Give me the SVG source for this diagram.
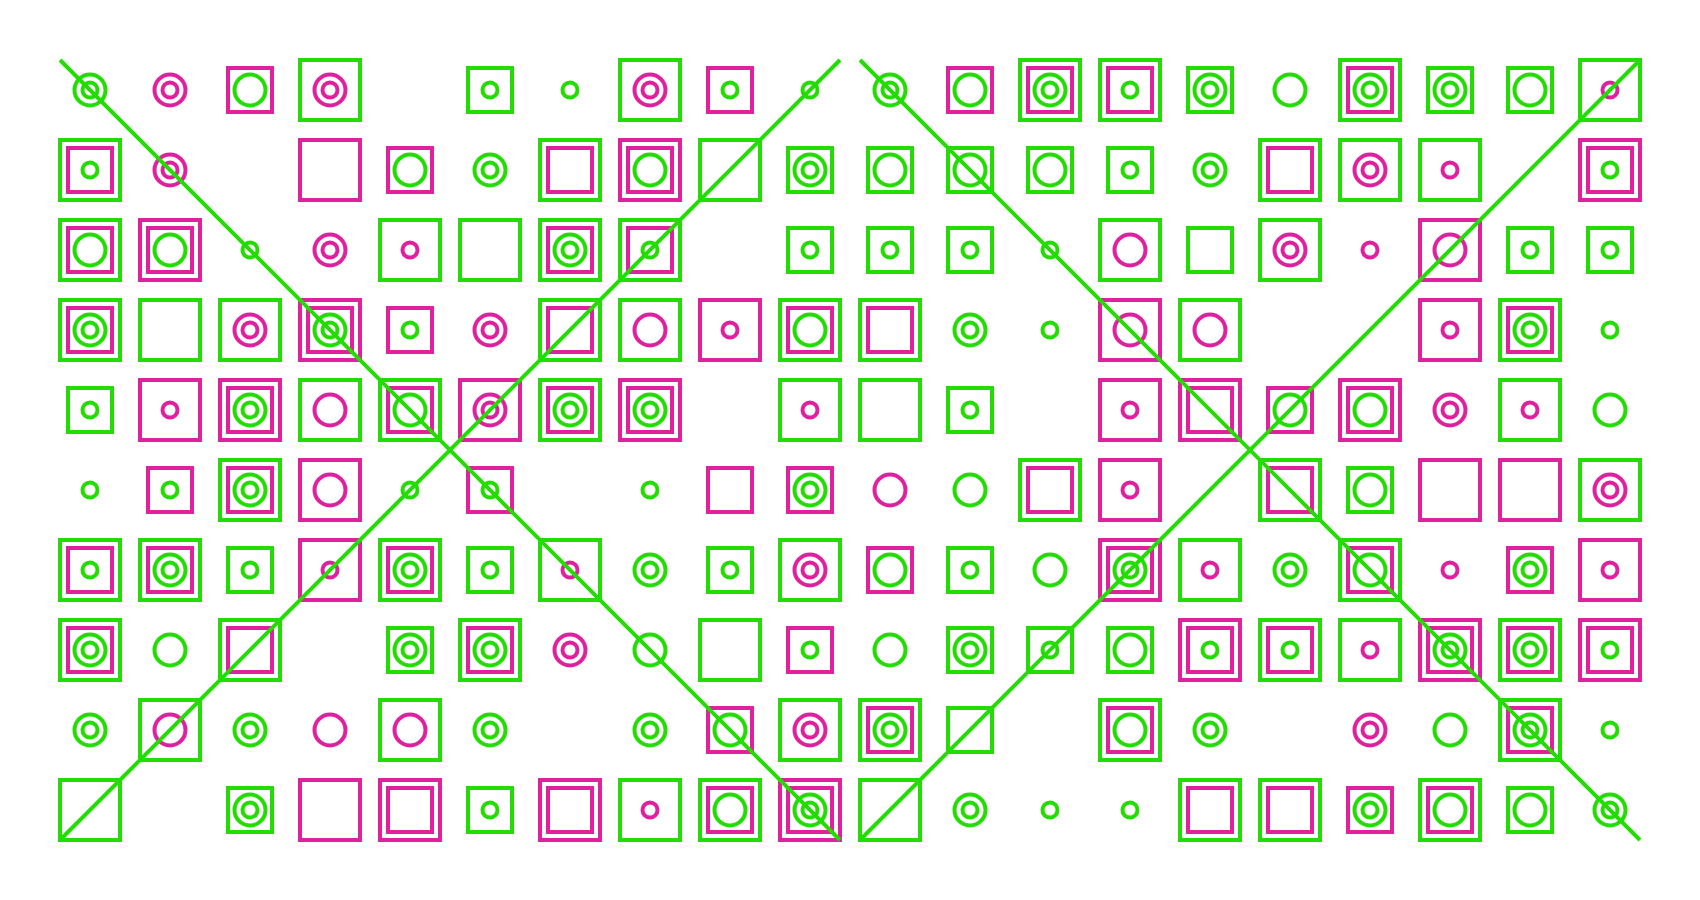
<svg xmlns="http://www.w3.org/2000/svg" width="1700" height="900" viewBox="0 0 1700 900">
<style>
rect,circle,line{fill:none;stroke-width:4}
.g{stroke:#22dd00}
.m{stroke:#e0209f}
</style>
<rect x="0" y="0" width="1700" height="900" fill="#ffffff" stroke="none"/>
<g id="cells">
<!-- row 0 -->
<g id="r0c0" transform="translate(90 90)"><circle r="15.5" class="g"/><circle r="7.5" class="g"/></g>
<g id="r0c1" transform="translate(170 90)"><circle r="15.5" class="m"/><circle r="7.5" class="m"/></g>
<g id="r0c2" transform="translate(250 90)"><rect x="-22" y="-22" width="44" height="44" class="m"/><circle r="15.5" class="g"/></g>
<g id="r0c3" transform="translate(330 90)"><rect x="-30" y="-30" width="60" height="60" class="g"/><circle r="15.5" class="m"/><circle r="7.5" class="m"/></g>
<g id="r0c5" transform="translate(490 90)"><rect x="-22" y="-22" width="44" height="44" class="g"/><circle r="7.5" class="g"/></g>
<g id="r0c6" transform="translate(570 90)"><circle r="7.5" class="g"/></g>
<g id="r0c7" transform="translate(650 90)"><rect x="-30" y="-30" width="60" height="60" class="g"/><circle r="15.5" class="m"/><circle r="7.5" class="m"/></g>
<g id="r0c8" transform="translate(730 90)"><rect x="-22" y="-22" width="44" height="44" class="m"/><circle r="7.5" class="g"/></g>
<g id="r0c9" transform="translate(810 90)"><circle r="7.5" class="g"/></g>
<g id="r0c10" transform="translate(890 90)"><circle r="15.5" class="g"/><circle r="7.5" class="g"/></g>
<g id="r0c11" transform="translate(970 90)"><rect x="-22" y="-22" width="44" height="44" class="m"/><circle r="15.5" class="g"/></g>
<g id="r0c12" transform="translate(1050 90)"><rect x="-30" y="-30" width="60" height="60" class="g"/><rect x="-22" y="-22" width="44" height="44" class="m"/><circle r="15.5" class="g"/><circle r="7.5" class="g"/></g>
<g id="r0c13" transform="translate(1130 90)"><rect x="-30" y="-30" width="60" height="60" class="g"/><rect x="-22" y="-22" width="44" height="44" class="m"/><circle r="7.5" class="g"/></g>
<g id="r0c14" transform="translate(1210 90)"><rect x="-22" y="-22" width="44" height="44" class="g"/><circle r="15.5" class="g"/><circle r="7.5" class="g"/></g>
<g id="r0c15" transform="translate(1290 90)"><circle r="15.5" class="g"/></g>
<g id="r0c16" transform="translate(1370 90)"><rect x="-30" y="-30" width="60" height="60" class="g"/><rect x="-22" y="-22" width="44" height="44" class="m"/><circle r="15.5" class="g"/><circle r="7.5" class="g"/></g>
<g id="r0c17" transform="translate(1450 90)"><rect x="-22" y="-22" width="44" height="44" class="g"/><circle r="15.5" class="g"/><circle r="7.5" class="g"/></g>
<g id="r0c18" transform="translate(1530 90)"><rect x="-22" y="-22" width="44" height="44" class="g"/><circle r="15.5" class="g"/></g>
<g id="r0c19" transform="translate(1610 90)"><rect x="-30" y="-30" width="60" height="60" class="g"/><circle r="7.5" class="m"/></g>
<!-- row 1 -->
<g id="r1c0" transform="translate(90 170)"><rect x="-30" y="-30" width="60" height="60" class="g"/><rect x="-22" y="-22" width="44" height="44" class="m"/><circle r="7.5" class="g"/></g>
<g id="r1c1" transform="translate(170 170)"><circle r="15.5" class="m"/><circle r="7.5" class="m"/></g>
<g id="r1c3" transform="translate(330 170)"><rect x="-30" y="-30" width="60" height="60" class="m"/></g>
<g id="r1c4" transform="translate(410 170)"><rect x="-22" y="-22" width="44" height="44" class="m"/><circle r="15.5" class="g"/></g>
<g id="r1c5" transform="translate(490 170)"><circle r="15.5" class="g"/><circle r="7.5" class="g"/></g>
<g id="r1c6" transform="translate(570 170)"><rect x="-30" y="-30" width="60" height="60" class="g"/><rect x="-22" y="-22" width="44" height="44" class="m"/></g>
<g id="r1c7" transform="translate(650 170)"><rect x="-30" y="-30" width="60" height="60" class="m"/><rect x="-22" y="-22" width="44" height="44" class="m"/><circle r="15.5" class="g"/></g>
<g id="r1c8" transform="translate(730 170)"><rect x="-30" y="-30" width="60" height="60" class="g"/></g>
<g id="r1c9" transform="translate(810 170)"><rect x="-22" y="-22" width="44" height="44" class="g"/><circle r="15.5" class="g"/><circle r="7.5" class="g"/></g>
<g id="r1c10" transform="translate(890 170)"><rect x="-22" y="-22" width="44" height="44" class="g"/><circle r="15.5" class="g"/></g>
<g id="r1c11" transform="translate(970 170)"><rect x="-22" y="-22" width="44" height="44" class="g"/><circle r="15.5" class="g"/></g>
<g id="r1c12" transform="translate(1050 170)"><rect x="-22" y="-22" width="44" height="44" class="g"/><circle r="15.5" class="g"/></g>
<g id="r1c13" transform="translate(1130 170)"><rect x="-22" y="-22" width="44" height="44" class="g"/><circle r="7.5" class="g"/></g>
<g id="r1c14" transform="translate(1210 170)"><circle r="15.5" class="g"/><circle r="7.5" class="g"/></g>
<g id="r1c15" transform="translate(1290 170)"><rect x="-30" y="-30" width="60" height="60" class="g"/><rect x="-22" y="-22" width="44" height="44" class="m"/></g>
<g id="r1c16" transform="translate(1370 170)"><rect x="-30" y="-30" width="60" height="60" class="g"/><circle r="15.5" class="m"/><circle r="7.5" class="m"/></g>
<g id="r1c17" transform="translate(1450 170)"><rect x="-30" y="-30" width="60" height="60" class="g"/><circle r="7.5" class="m"/></g>
<g id="r1c19" transform="translate(1610 170)"><rect x="-30" y="-30" width="60" height="60" class="m"/><rect x="-22" y="-22" width="44" height="44" class="m"/><circle r="7.5" class="g"/></g>
<!-- row 2 -->
<g id="r2c0" transform="translate(90 250)"><rect x="-30" y="-30" width="60" height="60" class="g"/><rect x="-22" y="-22" width="44" height="44" class="m"/><circle r="15.5" class="g"/></g>
<g id="r2c1" transform="translate(170 250)"><rect x="-30" y="-30" width="60" height="60" class="m"/><rect x="-22" y="-22" width="44" height="44" class="m"/><circle r="15.5" class="g"/></g>
<g id="r2c2" transform="translate(250 250)"><circle r="7.5" class="g"/></g>
<g id="r2c3" transform="translate(330 250)"><circle r="15.5" class="m"/><circle r="7.5" class="m"/></g>
<g id="r2c4" transform="translate(410 250)"><rect x="-30" y="-30" width="60" height="60" class="g"/><circle r="7.5" class="m"/></g>
<g id="r2c5" transform="translate(490 250)"><rect x="-30" y="-30" width="60" height="60" class="g"/></g>
<g id="r2c6" transform="translate(570 250)"><rect x="-30" y="-30" width="60" height="60" class="g"/><rect x="-22" y="-22" width="44" height="44" class="m"/><circle r="15.5" class="g"/><circle r="7.5" class="g"/></g>
<g id="r2c7" transform="translate(650 250)"><rect x="-30" y="-30" width="60" height="60" class="g"/><rect x="-22" y="-22" width="44" height="44" class="m"/><circle r="7.5" class="g"/></g>
<g id="r2c9" transform="translate(810 250)"><rect x="-22" y="-22" width="44" height="44" class="g"/><circle r="7.5" class="g"/></g>
<g id="r2c10" transform="translate(890 250)"><rect x="-22" y="-22" width="44" height="44" class="g"/><circle r="7.5" class="g"/></g>
<g id="r2c11" transform="translate(970 250)"><rect x="-22" y="-22" width="44" height="44" class="g"/><circle r="7.5" class="g"/></g>
<g id="r2c12" transform="translate(1050 250)"><circle r="7.5" class="g"/></g>
<g id="r2c13" transform="translate(1130 250)"><rect x="-30" y="-30" width="60" height="60" class="g"/><circle r="15.5" class="m"/></g>
<g id="r2c14" transform="translate(1210 250)"><rect x="-22" y="-22" width="44" height="44" class="g"/></g>
<g id="r2c15" transform="translate(1290 250)"><rect x="-30" y="-30" width="60" height="60" class="g"/><circle r="15.5" class="m"/><circle r="7.5" class="m"/></g>
<g id="r2c16" transform="translate(1370 250)"><circle r="7.5" class="m"/></g>
<g id="r2c17" transform="translate(1450 250)"><rect x="-30" y="-30" width="60" height="60" class="m"/><circle r="15.5" class="m"/></g>
<g id="r2c18" transform="translate(1530 250)"><rect x="-22" y="-22" width="44" height="44" class="g"/><circle r="7.5" class="g"/></g>
<g id="r2c19" transform="translate(1610 250)"><rect x="-22" y="-22" width="44" height="44" class="g"/><circle r="7.5" class="g"/></g>
<!-- row 3 -->
<g id="r3c0" transform="translate(90 330)"><rect x="-30" y="-30" width="60" height="60" class="g"/><rect x="-22" y="-22" width="44" height="44" class="m"/><circle r="15.5" class="g"/><circle r="7.5" class="g"/></g>
<g id="r3c1" transform="translate(170 330)"><rect x="-30" y="-30" width="60" height="60" class="g"/></g>
<g id="r3c2" transform="translate(250 330)"><rect x="-30" y="-30" width="60" height="60" class="g"/><circle r="15.5" class="m"/><circle r="7.5" class="m"/></g>
<g id="r3c3" transform="translate(330 330)"><rect x="-30" y="-30" width="60" height="60" class="m"/><rect x="-22" y="-22" width="44" height="44" class="m"/><circle r="15.5" class="g"/><circle r="7.5" class="g"/></g>
<g id="r3c4" transform="translate(410 330)"><rect x="-22" y="-22" width="44" height="44" class="m"/><circle r="7.5" class="g"/></g>
<g id="r3c5" transform="translate(490 330)"><circle r="15.5" class="m"/><circle r="7.5" class="m"/></g>
<g id="r3c6" transform="translate(570 330)"><rect x="-30" y="-30" width="60" height="60" class="g"/><rect x="-22" y="-22" width="44" height="44" class="m"/></g>
<g id="r3c7" transform="translate(650 330)"><rect x="-30" y="-30" width="60" height="60" class="g"/><circle r="15.5" class="m"/></g>
<g id="r3c8" transform="translate(730 330)"><rect x="-30" y="-30" width="60" height="60" class="m"/><circle r="7.5" class="m"/></g>
<g id="r3c9" transform="translate(810 330)"><rect x="-30" y="-30" width="60" height="60" class="g"/><rect x="-22" y="-22" width="44" height="44" class="m"/><circle r="15.5" class="g"/></g>
<g id="r3c10" transform="translate(890 330)"><rect x="-30" y="-30" width="60" height="60" class="g"/><rect x="-22" y="-22" width="44" height="44" class="m"/></g>
<g id="r3c11" transform="translate(970 330)"><circle r="15.5" class="g"/><circle r="7.5" class="g"/></g>
<g id="r3c12" transform="translate(1050 330)"><circle r="7.5" class="g"/></g>
<g id="r3c13" transform="translate(1130 330)"><rect x="-30" y="-30" width="60" height="60" class="m"/><circle r="15.5" class="m"/></g>
<g id="r3c14" transform="translate(1210 330)"><rect x="-30" y="-30" width="60" height="60" class="g"/><circle r="15.5" class="m"/></g>
<g id="r3c17" transform="translate(1450 330)"><rect x="-30" y="-30" width="60" height="60" class="m"/><circle r="7.5" class="m"/></g>
<g id="r3c18" transform="translate(1530 330)"><rect x="-30" y="-30" width="60" height="60" class="g"/><rect x="-22" y="-22" width="44" height="44" class="m"/><circle r="15.5" class="g"/><circle r="7.5" class="g"/></g>
<g id="r3c19" transform="translate(1610 330)"><circle r="7.5" class="g"/></g>
<!-- row 4 -->
<g id="r4c0" transform="translate(90 410)"><rect x="-22" y="-22" width="44" height="44" class="g"/><circle r="7.5" class="g"/></g>
<g id="r4c1" transform="translate(170 410)"><rect x="-30" y="-30" width="60" height="60" class="m"/><circle r="7.5" class="m"/></g>
<g id="r4c2" transform="translate(250 410)"><rect x="-30" y="-30" width="60" height="60" class="m"/><rect x="-22" y="-22" width="44" height="44" class="m"/><circle r="15.5" class="g"/><circle r="7.5" class="g"/></g>
<g id="r4c3" transform="translate(330 410)"><rect x="-30" y="-30" width="60" height="60" class="g"/><circle r="15.5" class="m"/></g>
<g id="r4c4" transform="translate(410 410)"><rect x="-30" y="-30" width="60" height="60" class="g"/><rect x="-22" y="-22" width="44" height="44" class="m"/><circle r="15.5" class="g"/></g>
<g id="r4c5" transform="translate(490 410)"><rect x="-30" y="-30" width="60" height="60" class="m"/><circle r="15.5" class="m"/><circle r="7.5" class="m"/></g>
<g id="r4c6" transform="translate(570 410)"><rect x="-30" y="-30" width="60" height="60" class="g"/><rect x="-22" y="-22" width="44" height="44" class="m"/><circle r="15.5" class="g"/><circle r="7.5" class="g"/></g>
<g id="r4c7" transform="translate(650 410)"><rect x="-30" y="-30" width="60" height="60" class="m"/><rect x="-22" y="-22" width="44" height="44" class="m"/><circle r="15.5" class="g"/><circle r="7.5" class="g"/></g>
<g id="r4c9" transform="translate(810 410)"><rect x="-30" y="-30" width="60" height="60" class="g"/><circle r="7.5" class="m"/></g>
<g id="r4c10" transform="translate(890 410)"><rect x="-30" y="-30" width="60" height="60" class="g"/></g>
<g id="r4c11" transform="translate(970 410)"><rect x="-22" y="-22" width="44" height="44" class="g"/><circle r="7.5" class="g"/></g>
<g id="r4c13" transform="translate(1130 410)"><rect x="-30" y="-30" width="60" height="60" class="m"/><circle r="7.5" class="m"/></g>
<g id="r4c14" transform="translate(1210 410)"><rect x="-30" y="-30" width="60" height="60" class="m"/><rect x="-22" y="-22" width="44" height="44" class="m"/></g>
<g id="r4c15" transform="translate(1290 410)"><rect x="-22" y="-22" width="44" height="44" class="m"/><circle r="15.5" class="g"/></g>
<g id="r4c16" transform="translate(1370 410)"><rect x="-30" y="-30" width="60" height="60" class="m"/><rect x="-22" y="-22" width="44" height="44" class="m"/><circle r="15.5" class="g"/></g>
<g id="r4c17" transform="translate(1450 410)"><circle r="15.5" class="m"/><circle r="7.5" class="m"/></g>
<g id="r4c18" transform="translate(1530 410)"><rect x="-30" y="-30" width="60" height="60" class="g"/><circle r="7.5" class="m"/></g>
<g id="r4c19" transform="translate(1610 410)"><circle r="15.5" class="g"/></g>
<!-- row 5 -->
<g id="r5c0" transform="translate(90 490)"><circle r="7.5" class="g"/></g>
<g id="r5c1" transform="translate(170 490)"><rect x="-22" y="-22" width="44" height="44" class="m"/><circle r="7.5" class="g"/></g>
<g id="r5c2" transform="translate(250 490)"><rect x="-30" y="-30" width="60" height="60" class="g"/><rect x="-22" y="-22" width="44" height="44" class="m"/><circle r="15.5" class="g"/><circle r="7.5" class="g"/></g>
<g id="r5c3" transform="translate(330 490)"><rect x="-30" y="-30" width="60" height="60" class="m"/><circle r="15.5" class="m"/></g>
<g id="r5c4" transform="translate(410 490)"><circle r="7.5" class="g"/></g>
<g id="r5c5" transform="translate(490 490)"><rect x="-22" y="-22" width="44" height="44" class="m"/><circle r="7.5" class="g"/></g>
<g id="r5c7" transform="translate(650 490)"><circle r="7.5" class="g"/></g>
<g id="r5c8" transform="translate(730 490)"><rect x="-22" y="-22" width="44" height="44" class="m"/></g>
<g id="r5c9" transform="translate(810 490)"><rect x="-22" y="-22" width="44" height="44" class="m"/><circle r="15.5" class="g"/><circle r="7.5" class="g"/></g>
<g id="r5c10" transform="translate(890 490)"><circle r="15.5" class="m"/></g>
<g id="r5c11" transform="translate(970 490)"><circle r="15.5" class="g"/></g>
<g id="r5c12" transform="translate(1050 490)"><rect x="-30" y="-30" width="60" height="60" class="g"/><rect x="-22" y="-22" width="44" height="44" class="m"/></g>
<g id="r5c13" transform="translate(1130 490)"><rect x="-30" y="-30" width="60" height="60" class="m"/><circle r="7.5" class="m"/></g>
<g id="r5c15" transform="translate(1290 490)"><rect x="-30" y="-30" width="60" height="60" class="g"/><rect x="-22" y="-22" width="44" height="44" class="m"/></g>
<g id="r5c16" transform="translate(1370 490)"><rect x="-22" y="-22" width="44" height="44" class="g"/><circle r="15.5" class="g"/></g>
<g id="r5c17" transform="translate(1450 490)"><rect x="-30" y="-30" width="60" height="60" class="m"/></g>
<g id="r5c18" transform="translate(1530 490)"><rect x="-30" y="-30" width="60" height="60" class="m"/></g>
<g id="r5c19" transform="translate(1610 490)"><rect x="-30" y="-30" width="60" height="60" class="g"/><circle r="15.5" class="m"/><circle r="7.5" class="m"/></g>
<!-- row 6 -->
<g id="r6c0" transform="translate(90 570)"><rect x="-30" y="-30" width="60" height="60" class="g"/><rect x="-22" y="-22" width="44" height="44" class="m"/><circle r="7.5" class="g"/></g>
<g id="r6c1" transform="translate(170 570)"><rect x="-30" y="-30" width="60" height="60" class="g"/><rect x="-22" y="-22" width="44" height="44" class="m"/><circle r="15.5" class="g"/><circle r="7.5" class="g"/></g>
<g id="r6c2" transform="translate(250 570)"><rect x="-22" y="-22" width="44" height="44" class="g"/><circle r="7.5" class="g"/></g>
<g id="r6c3" transform="translate(330 570)"><rect x="-30" y="-30" width="60" height="60" class="m"/><circle r="7.5" class="m"/></g>
<g id="r6c4" transform="translate(410 570)"><rect x="-30" y="-30" width="60" height="60" class="g"/><rect x="-22" y="-22" width="44" height="44" class="m"/><circle r="15.5" class="g"/><circle r="7.5" class="g"/></g>
<g id="r6c5" transform="translate(490 570)"><rect x="-22" y="-22" width="44" height="44" class="g"/><circle r="7.5" class="g"/></g>
<g id="r6c6" transform="translate(570 570)"><rect x="-30" y="-30" width="60" height="60" class="g"/><circle r="7.5" class="m"/></g>
<g id="r6c7" transform="translate(650 570)"><circle r="15.5" class="g"/><circle r="7.5" class="g"/></g>
<g id="r6c8" transform="translate(730 570)"><rect x="-22" y="-22" width="44" height="44" class="g"/><circle r="7.5" class="g"/></g>
<g id="r6c9" transform="translate(810 570)"><rect x="-30" y="-30" width="60" height="60" class="g"/><circle r="15.5" class="m"/><circle r="7.5" class="m"/></g>
<g id="r6c10" transform="translate(890 570)"><rect x="-22" y="-22" width="44" height="44" class="m"/><circle r="15.5" class="g"/></g>
<g id="r6c11" transform="translate(970 570)"><rect x="-22" y="-22" width="44" height="44" class="g"/><circle r="7.5" class="g"/></g>
<g id="r6c12" transform="translate(1050 570)"><circle r="15.5" class="g"/></g>
<g id="r6c13" transform="translate(1130 570)"><rect x="-30" y="-30" width="60" height="60" class="m"/><rect x="-22" y="-22" width="44" height="44" class="m"/><circle r="15.5" class="g"/><circle r="7.5" class="g"/></g>
<g id="r6c14" transform="translate(1210 570)"><rect x="-30" y="-30" width="60" height="60" class="g"/><circle r="7.5" class="m"/></g>
<g id="r6c15" transform="translate(1290 570)"><circle r="15.5" class="g"/><circle r="7.5" class="g"/></g>
<g id="r6c16" transform="translate(1370 570)"><rect x="-30" y="-30" width="60" height="60" class="g"/><rect x="-22" y="-22" width="44" height="44" class="m"/><circle r="15.5" class="g"/></g>
<g id="r6c17" transform="translate(1450 570)"><circle r="7.5" class="m"/></g>
<g id="r6c18" transform="translate(1530 570)"><rect x="-22" y="-22" width="44" height="44" class="m"/><circle r="15.5" class="g"/><circle r="7.5" class="g"/></g>
<g id="r6c19" transform="translate(1610 570)"><rect x="-30" y="-30" width="60" height="60" class="m"/><circle r="7.5" class="m"/></g>
<!-- row 7 -->
<g id="r7c0" transform="translate(90 650)"><rect x="-30" y="-30" width="60" height="60" class="g"/><rect x="-22" y="-22" width="44" height="44" class="m"/><circle r="15.5" class="g"/><circle r="7.5" class="g"/></g>
<g id="r7c1" transform="translate(170 650)"><circle r="15.5" class="g"/></g>
<g id="r7c2" transform="translate(250 650)"><rect x="-30" y="-30" width="60" height="60" class="g"/><rect x="-22" y="-22" width="44" height="44" class="m"/></g>
<g id="r7c4" transform="translate(410 650)"><rect x="-22" y="-22" width="44" height="44" class="g"/><circle r="15.5" class="g"/><circle r="7.5" class="g"/></g>
<g id="r7c5" transform="translate(490 650)"><rect x="-30" y="-30" width="60" height="60" class="g"/><rect x="-22" y="-22" width="44" height="44" class="m"/><circle r="15.5" class="g"/><circle r="7.5" class="g"/></g>
<g id="r7c6" transform="translate(570 650)"><circle r="15.5" class="m"/><circle r="7.5" class="m"/></g>
<g id="r7c7" transform="translate(650 650)"><circle r="15.5" class="g"/></g>
<g id="r7c8" transform="translate(730 650)"><rect x="-30" y="-30" width="60" height="60" class="g"/></g>
<g id="r7c9" transform="translate(810 650)"><rect x="-22" y="-22" width="44" height="44" class="m"/><circle r="7.5" class="g"/></g>
<g id="r7c10" transform="translate(890 650)"><circle r="15.5" class="g"/></g>
<g id="r7c11" transform="translate(970 650)"><rect x="-22" y="-22" width="44" height="44" class="g"/><circle r="15.5" class="g"/><circle r="7.5" class="g"/></g>
<g id="r7c12" transform="translate(1050 650)"><rect x="-22" y="-22" width="44" height="44" class="g"/><circle r="7.5" class="g"/></g>
<g id="r7c13" transform="translate(1130 650)"><rect x="-22" y="-22" width="44" height="44" class="g"/><circle r="15.5" class="g"/></g>
<g id="r7c14" transform="translate(1210 650)"><rect x="-30" y="-30" width="60" height="60" class="m"/><rect x="-22" y="-22" width="44" height="44" class="m"/><circle r="7.5" class="g"/></g>
<g id="r7c15" transform="translate(1290 650)"><rect x="-30" y="-30" width="60" height="60" class="g"/><rect x="-22" y="-22" width="44" height="44" class="m"/><circle r="7.5" class="g"/></g>
<g id="r7c16" transform="translate(1370 650)"><rect x="-30" y="-30" width="60" height="60" class="g"/><circle r="7.5" class="m"/></g>
<g id="r7c17" transform="translate(1450 650)"><rect x="-30" y="-30" width="60" height="60" class="m"/><rect x="-22" y="-22" width="44" height="44" class="m"/><circle r="15.5" class="g"/><circle r="7.5" class="g"/></g>
<g id="r7c18" transform="translate(1530 650)"><rect x="-30" y="-30" width="60" height="60" class="g"/><rect x="-22" y="-22" width="44" height="44" class="m"/><circle r="15.5" class="g"/><circle r="7.5" class="g"/></g>
<g id="r7c19" transform="translate(1610 650)"><rect x="-30" y="-30" width="60" height="60" class="m"/><rect x="-22" y="-22" width="44" height="44" class="m"/><circle r="7.5" class="g"/></g>
<!-- row 8 -->
<g id="r8c0" transform="translate(90 730)"><circle r="15.5" class="g"/><circle r="7.5" class="g"/></g>
<g id="r8c1" transform="translate(170 730)"><rect x="-30" y="-30" width="60" height="60" class="g"/><circle r="15.5" class="m"/></g>
<g id="r8c2" transform="translate(250 730)"><circle r="15.5" class="g"/><circle r="7.5" class="g"/></g>
<g id="r8c3" transform="translate(330 730)"><circle r="15.5" class="m"/></g>
<g id="r8c4" transform="translate(410 730)"><rect x="-30" y="-30" width="60" height="60" class="g"/><circle r="15.5" class="m"/></g>
<g id="r8c5" transform="translate(490 730)"><circle r="15.5" class="g"/><circle r="7.5" class="g"/></g>
<g id="r8c7" transform="translate(650 730)"><circle r="15.5" class="g"/><circle r="7.5" class="g"/></g>
<g id="r8c8" transform="translate(730 730)"><rect x="-22" y="-22" width="44" height="44" class="m"/><circle r="15.5" class="g"/></g>
<g id="r8c9" transform="translate(810 730)"><rect x="-30" y="-30" width="60" height="60" class="g"/><circle r="15.5" class="m"/><circle r="7.5" class="m"/></g>
<g id="r8c10" transform="translate(890 730)"><rect x="-30" y="-30" width="60" height="60" class="g"/><rect x="-22" y="-22" width="44" height="44" class="m"/><circle r="15.5" class="g"/><circle r="7.5" class="g"/></g>
<g id="r8c11" transform="translate(970 730)"><rect x="-22" y="-22" width="44" height="44" class="g"/></g>
<g id="r8c13" transform="translate(1130 730)"><rect x="-30" y="-30" width="60" height="60" class="g"/><rect x="-22" y="-22" width="44" height="44" class="m"/><circle r="15.5" class="g"/></g>
<g id="r8c14" transform="translate(1210 730)"><circle r="15.5" class="g"/><circle r="7.5" class="g"/></g>
<g id="r8c16" transform="translate(1370 730)"><circle r="15.5" class="m"/><circle r="7.5" class="m"/></g>
<g id="r8c17" transform="translate(1450 730)"><circle r="15.5" class="g"/></g>
<g id="r8c18" transform="translate(1530 730)"><rect x="-30" y="-30" width="60" height="60" class="g"/><rect x="-22" y="-22" width="44" height="44" class="m"/><circle r="15.5" class="g"/><circle r="7.5" class="g"/></g>
<g id="r8c19" transform="translate(1610 730)"><circle r="7.5" class="g"/></g>
<!-- row 9 -->
<g id="r9c0" transform="translate(90 810)"><rect x="-30" y="-30" width="60" height="60" class="g"/></g>
<g id="r9c2" transform="translate(250 810)"><rect x="-22" y="-22" width="44" height="44" class="g"/><circle r="15.5" class="g"/><circle r="7.5" class="g"/></g>
<g id="r9c3" transform="translate(330 810)"><rect x="-30" y="-30" width="60" height="60" class="m"/></g>
<g id="r9c4" transform="translate(410 810)"><rect x="-30" y="-30" width="60" height="60" class="m"/><rect x="-22" y="-22" width="44" height="44" class="m"/></g>
<g id="r9c5" transform="translate(490 810)"><rect x="-22" y="-22" width="44" height="44" class="g"/><circle r="7.5" class="g"/></g>
<g id="r9c6" transform="translate(570 810)"><rect x="-30" y="-30" width="60" height="60" class="m"/><rect x="-22" y="-22" width="44" height="44" class="m"/></g>
<g id="r9c7" transform="translate(650 810)"><rect x="-30" y="-30" width="60" height="60" class="g"/><circle r="7.5" class="m"/></g>
<g id="r9c8" transform="translate(730 810)"><rect x="-30" y="-30" width="60" height="60" class="g"/><rect x="-22" y="-22" width="44" height="44" class="m"/><circle r="15.5" class="g"/></g>
<g id="r9c9" transform="translate(810 810)"><rect x="-30" y="-30" width="60" height="60" class="m"/><rect x="-22" y="-22" width="44" height="44" class="m"/><circle r="15.5" class="g"/><circle r="7.5" class="g"/></g>
<g id="r9c10" transform="translate(890 810)"><rect x="-30" y="-30" width="60" height="60" class="g"/></g>
<g id="r9c11" transform="translate(970 810)"><circle r="15.5" class="g"/><circle r="7.5" class="g"/></g>
<g id="r9c12" transform="translate(1050 810)"><circle r="7.5" class="g"/></g>
<g id="r9c13" transform="translate(1130 810)"><circle r="7.5" class="g"/></g>
<g id="r9c14" transform="translate(1210 810)"><rect x="-30" y="-30" width="60" height="60" class="g"/><rect x="-22" y="-22" width="44" height="44" class="m"/></g>
<g id="r9c15" transform="translate(1290 810)"><rect x="-30" y="-30" width="60" height="60" class="g"/><rect x="-22" y="-22" width="44" height="44" class="m"/></g>
<g id="r9c16" transform="translate(1370 810)"><rect x="-22" y="-22" width="44" height="44" class="m"/><circle r="15.5" class="g"/><circle r="7.5" class="g"/></g>
<g id="r9c17" transform="translate(1450 810)"><rect x="-30" y="-30" width="60" height="60" class="g"/><rect x="-22" y="-22" width="44" height="44" class="m"/><circle r="15.5" class="g"/></g>
<g id="r9c18" transform="translate(1530 810)"><rect x="-22" y="-22" width="44" height="44" class="g"/><circle r="15.5" class="g"/></g>
<g id="r9c19" transform="translate(1610 810)"><circle r="15.5" class="g"/><circle r="7.5" class="g"/></g>
</g>
<g id="connectors">
<line x1="60" y1="60" x2="840" y2="840" class="g"/>
<line x1="840" y1="60" x2="60" y2="840" class="g"/>
<line x1="860" y1="60" x2="1640" y2="840" class="g"/>
<line x1="1640" y1="60" x2="860" y2="840" class="g"/>
</g>
</svg>
